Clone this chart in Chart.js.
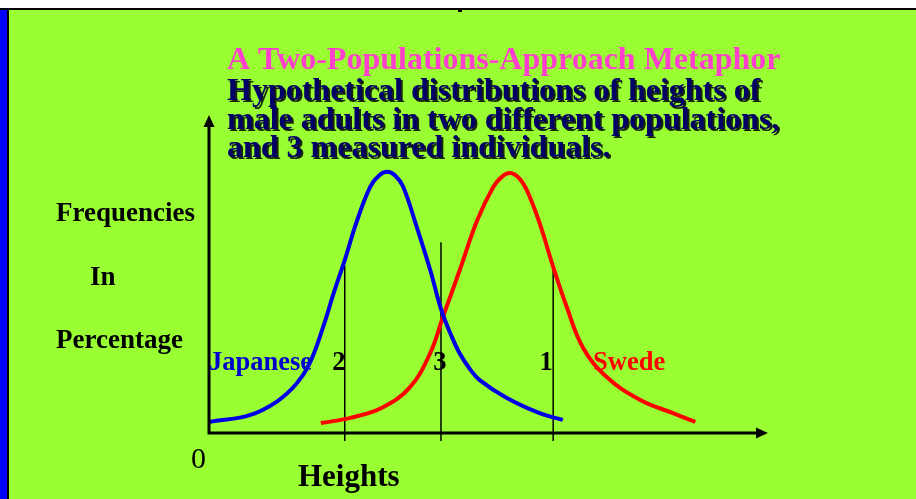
<!DOCTYPE html>
<html>
<head>
<meta charset="utf-8">
<script src="https://cdn.jsdelivr.net/npm/chart.js@4/dist/chart.umd.min.js"></script>
<style>
  html, body { margin: 0; padding: 0; background: #fff; }
  .frame { position: absolute; left: 0; top: 8px; width: 916px; height: 489px; background: #99ff33; border-top: 2px solid #000; }
  .strip { position: absolute; left: 0; top: 10px; width: 7px; height: 489px; background: #0000ff; border-right: 2px solid #000; }
  .nub { position: absolute; left: 458px; top: 10px; width: 4px; height: 2px; background: #000; }
  #chart { position: absolute; left: 0; top: 0; }
</style>
</head>
<body>
<div class="frame"></div>
<div class="strip"></div>
<div class="nub"></div>
<canvas id="chart" width="916" height="499"></canvas>
<script>
// heights in cm, frequencies in percent
const japaneseHeights = [140.1, 145.1, 148.5, 151.0, 152.6, 154.3, 155.6, 157.0, 158.5, 160.2, 161.3, 162.3, 163.3, 164.3, 166.0, 167.7, 169.1, 170.3, 171.4, 172.6, 173.9, 177.3, 181.4, 184.3]
const japaneseFreq    = [0.28, 0.45, 0.79, 1.25, 1.75, 2.67, 3.51, 4.35, 5.32, 6.20, 6.48, 6.57, 6.48, 6.20, 5.19, 4.10, 3.09, 2.47, 2.00, 1.63, 1.33, 0.88, 0.50, 0.33]

const swedeHeights = [154.0, 157.7, 161.8, 165.2, 167.7, 169.3, 171.4, 173.6, 175.6, 176.7, 177.7, 178.8, 179.8, 181.4, 183.1, 184.8, 186.8, 189.8, 194.0, 198.1, 200.9]
const swedeFreq    = [0.25, 0.38, 0.65, 1.16, 2.01, 2.92, 4.10, 5.36, 6.19, 6.45, 6.54, 6.42, 6.11, 5.28, 4.18, 3.17, 2.16, 1.41, 0.83, 0.50, 0.28]

// the 3 measured individuals
const individualLabels  = ["2", "3", "1"]
const individualHeights = [157.0, 169.05, 183.1]
const markerTops        = [4.2, 4.8, 4.2]
const markerBottom      = -0.2

const heightRange = [140, 210]
const freqRange   = [0, 8]

const serif = "'Liberation Serif', 'Times New Roman', serif"

const curve = (hs, fs) => hs.map((h, i) => ({ x: h, y: fs[i] }))

const markerSets = individualHeights.map((h, i) => ({
  data: [{ x: h, y: markerBottom }, { x: h, y: markerTops[i] }],
  borderColor: "#000",
  borderWidth: 1.5,
  pointRadius: 0,
  tension: 0,
  clip: false
}))

const decorations = {
  id: "decorations",
  afterDraw(chart) {
    const ctx = chart.ctx
    const x = chart.scales.x
    const y = chart.scales.y
    const left = x.getPixelForValue(heightRange[0])
    const right = x.getPixelForValue(heightRange[1])
    const bottom = y.getPixelForValue(freqRange[0])
    const top = y.getPixelForValue(freqRange[1])

    ctx.save()
    // axes with arrow heads
    ctx.strokeStyle = "#000"
    ctx.fillStyle = "#000"
    ctx.lineWidth = 3
    ctx.beginPath()
    ctx.moveTo(left, bottom + 1.5)
    ctx.lineTo(left, top + 10)
    ctx.moveTo(left - 1.5, bottom)
    ctx.lineTo(right - 10, bottom)
    ctx.stroke()
    ctx.beginPath()
    ctx.moveTo(left, top)
    ctx.lineTo(left - 5.5, top + 12)
    ctx.lineTo(left + 5.5, top + 12)
    ctx.closePath()
    ctx.fill()
    ctx.beginPath()
    ctx.moveTo(right, bottom)
    ctx.lineTo(right - 12, bottom - 5.5)
    ctx.lineTo(right - 12, bottom + 5.5)
    ctx.closePath()
    ctx.fill()

    // titles
    ctx.textBaseline = "alphabetic"
    ctx.textAlign = "left"
    ctx.font = "bold 32px " + serif
    ctx.fillStyle = "#ff40cc"
    ctx.fillText("A Two-Populations-Approach Metaphor", 227, 69)

    ctx.save()
    ctx.shadowColor = "rgba(0,0,0,0.85)"
    ctx.shadowOffsetX = 2
    ctx.shadowOffsetY = 2
    ctx.shadowBlur = 0
    ctx.fillStyle = "#000066"
    ctx.fillText("Hypothetical distributions of heights of", 227, 100)
    ctx.fillText("male adults in two different populations,", 227, 129)
    ctx.fillText("and 3 measured individuals.", 227, 157)
    ctx.restore()

    // y axis caption
    ctx.fillStyle = "#000"
    ctx.font = "bold 27px " + serif
    ctx.fillText("Frequencies", 56, 221)
    ctx.fillText("In", 90, 285)
    ctx.fillText("Percentage", 56, 348)

    // series names
    ctx.font = "bold 26.5px " + serif
    ctx.fillStyle = "#0000cc"
    ctx.fillText("Japanese", 209, 370)
    ctx.fillStyle = "#ff0000"
    ctx.fillText("Swede", 593, 370)

    // individual numbers
    ctx.fillStyle = "#000"
    const offsets = [-6, -1, -7]
    individualLabels.forEach((lab, i) => {
      ctx.textAlign = "center"
      ctx.fillText(lab, x.getPixelForValue(individualHeights[i]) + offsets[i], 370)
    })

    // x axis captions
    ctx.textAlign = "left"
    ctx.font = "30px " + serif
    ctx.fillText("0", 191, 468)
    ctx.font = "bold 31px " + serif
    ctx.fillText("Heights", 298, 486)
    ctx.restore()
  }
}

new Chart(document.getElementById("chart").getContext("2d"), {
  type: "line",
  data: {
    datasets: [
      {
        label: "Japanese",
        data: curve(japaneseHeights, japaneseFreq),
        borderColor: "#0000e6",
        borderWidth: 4,
        pointRadius: 0,
        tension: 0.4
      },
      {
        label: "Swede",
        data: curve(swedeHeights, swedeFreq),
        borderColor: "#ff0000",
        borderWidth: 4,
        pointRadius: 0,
        tension: 0.4
      },
      ...markerSets
    ]
  },
  plugins: [decorations],
  options: {
    responsive: false,
    animation: false,
    events: [],
    layout: {
      padding: { left: 209, right: 148, top: 115, bottom: 66 }
    },
    scales: {
      x: { type: "linear", min: heightRange[0], max: heightRange[1], display: false },
      y: { min: freqRange[0], max: freqRange[1], display: false }
    },
    plugins: {
      legend: { display: false },
      tooltip: { enabled: false }
    }
  }
})
</script>
</body>
</html>
